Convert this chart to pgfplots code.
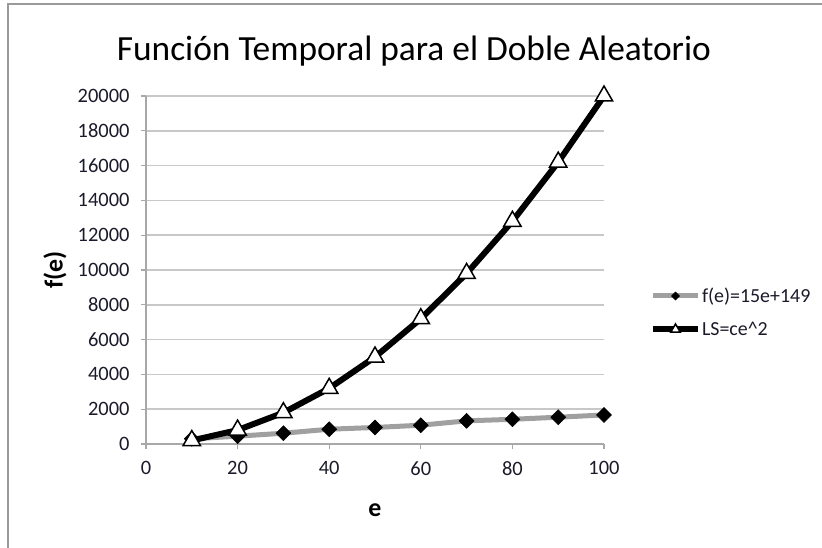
\documentclass[border=0pt]{standalone}
\usepackage{pgfplots}
\pgfplotsset{compat=1.18}
\usepackage{fontspec}
\setmainfont{Carlito}
\definecolor{gridgray}{HTML}{C8C8C8}
\definecolor{axgray}{HTML}{A8A8A8}
\definecolor{sergray}{HTML}{A0A0A0}
\definecolor{framegray}{HTML}{9A9A9A}
\definecolor{ticktext}{HTML}{1A1A2A}
\begin{document}
\begin{tikzpicture}
\path[use as bounding box] (-146bp,-104bp) rectangle (676bp,444bp);
\draw[color=framegray, line width=2.5bp] (-138bp,-104bp) -- (-138bp,440bp) -- (676bp,440bp);
\begin{axis}[
  scale only axis, width=458bp, height=348bp,
  xmin=0, xmax=100, ymin=0, ymax=20000,
  xtick={0,20,...,100}, ytick={0,2000,...,20000},
  axis x line*=bottom, axis y line*=left,
  axis line style={draw=axgray, line width=1.3bp},
  tick style={draw=axgray, line width=1.3bp},
  tick align=outside, major tick length=5bp,
  ymajorgrids, grid style={draw=gridgray, line width=1.5bp},
  scaled y ticks=false,
  /pgf/number format/assume math mode=true,
  /pgf/number format/1000 sep={},
  ticklabel style={font=\fontsize{20.5}{22}\selectfont, text=ticktext},
  xticklabel style={yshift=-9bp},
  yticklabel style={xshift=-8bp},
  xlabel={e}, ylabel={f(e)},
  every axis x label/.style={at={(rel axis cs:0.5,-0.19)}, anchor=center,
    font=\bfseries\fontsize{26}{28}\selectfont},
  every axis y label/.style={at={(rel axis cs:-0.199,0.5)}, anchor=center, rotate=90,
    font=\bfseries\fontsize{26}{28}\selectfont},
  clip=false,
  legend style={at={(rel axis cs:1.1,0.378)}, anchor=west, draw=none, fill=none,
    font=\fontsize{20}{22}\selectfont, row sep=14bp, inner sep=0pt,
    nodes={inner xsep=1bp, text=ticktext}},
  legend cell align=left,
  legend image code/.code={
    \draw[mark=none] (0bp,0bp) -- (45bp,0bp);
    \draw[/tikz/every mark/.append style={scale=0.55}] plot coordinates {(22.5bp,0bp)};
  },
]
\addplot[color=sergray, line width=5bp, mark=square*,
  mark options={rotate=45, fill=black, draw=black, line width=0.5bp}, mark size=5.3bp]
  coordinates {(10,299) (20,449) (30,620) (40,850) (50,950) (60,1080) (70,1330) (80,1420) (90,1540) (100,1670)};
\addlegendentry{f(e)=15e+149}
\addplot[color=black, line width=6bp, mark=triangle*,
  mark options={fill=white, draw=black, line width=1.5bp}, mark size=10bp]
  coordinates {(10,200) (20,800) (30,1800) (40,3200) (50,5000) (60,7200) (70,9800) (80,12800) (90,16200) (100,20000)};
\addlegendentry{LS=ce\^{}2}
\node[font=\fontsize{35.5}{40}\selectfont] at (rel axis cs:0.585,1.128) {Función Temporal para el Doble Aleatorio};
\end{axis}
\end{tikzpicture}
\end{document}
